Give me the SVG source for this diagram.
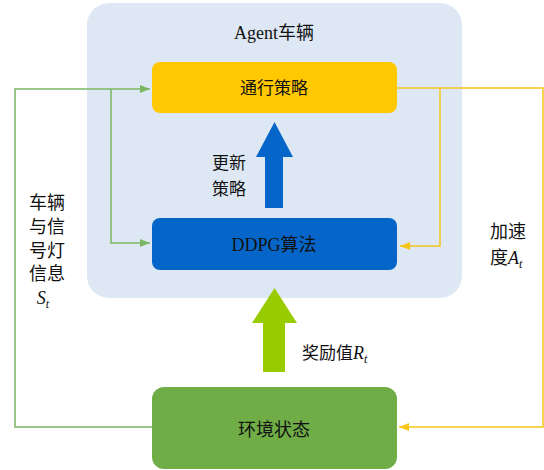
<svg xmlns="http://www.w3.org/2000/svg" width="544" height="470" viewBox="0 0 544 470">
<defs>
<style>
.t{font-family:"Liberation Serif","Noto Sans CJK SC",serif;fill:#111;}
.c{font-family:"Noto Sans CJK SC",sans-serif;fill:#111;}
.i{font-family:"Liberation Serif",serif;font-style:italic;}
.g{fill:none;stroke:#7bb661;stroke-width:1.5;}
.y{fill:none;stroke:#f5c518;stroke-width:1.5;}
</style>
<marker id="ag" markerWidth="10" markerHeight="8" refX="10" refY="4" orient="auto" markerUnits="userSpaceOnUse"><path d="M0,0 L10,4 L0,8 z" fill="#7bb661"/></marker>
<marker id="ay" markerWidth="10" markerHeight="8" refX="10" refY="4" orient="auto" markerUnits="userSpaceOnUse"><path d="M0,0 L10,4 L0,8 z" fill="#f5c518"/></marker>
</defs>
<rect width="544" height="470" fill="#fff"/>
<g id="agent">
<rect x="87" y="3" width="375" height="295" rx="22" fill="#dde8f4"/>
<text class="t" x="274" y="39" font-size="18" text-anchor="middle">Agent车辆</text>
</g>
<g id="connectors">
<path class="g" d="M152,427 H15 V89 H150" marker-end="url(#ag)"/>
<path class="g" d="M111,89 V243 H150" marker-end="url(#ag)"/>
<path class="y" d="M397,88 H543 V427 H399" marker-end="url(#ay)"/>
<path class="y" d="M440,88 V246 H400" marker-end="url(#ay)"/>
</g>
<g id="policy">
<rect x="152" y="62" width="245" height="51" rx="8" fill="#ffc800"/>
<text class="c" x="274" y="94" font-size="17" text-anchor="middle">通行策略</text>
</g>
<g id="ddpg">
<rect x="152" y="218" width="245" height="52" rx="8" fill="#0565c8"/>
<text class="t" x="274" y="251" font-size="18" text-anchor="middle">DDPG算法</text>
</g>
<g id="env">
<rect x="152" y="387" width="245" height="82" rx="12" fill="#70ad47"/>
<text class="c" x="274" y="436" font-size="18" text-anchor="middle">环境状态</text>
</g>
<g id="update">
<path d="M265,208 V157 H256 L274.5,122 L293,157 H283 V208 z" fill="#0565c8"/>
<text class="c" x="229" y="169" font-size="17" text-anchor="middle">更新</text>
<text class="c" x="229" y="195" font-size="17" text-anchor="middle">策略</text>
</g>
<g id="reward">
<path d="M263,372 V323 H252 L274.5,288 L297,323 H285 V372 z" fill="#99cc00"/>
<text class="c" x="302" y="359" font-size="17">奖励值<tspan class="i" font-size="18">R</tspan><tspan class="i" font-size="12" dy="4">t</tspan></text>
</g>
<g id="state-label" font-size="18">
<text class="t" x="47" y="209" text-anchor="middle">车辆</text>
<text class="t" x="47" y="233" text-anchor="middle">与信</text>
<text class="t" x="47" y="257" text-anchor="middle">号灯</text>
<text class="t" x="47" y="280" text-anchor="middle">信息</text>
<text x="43" y="304" text-anchor="middle" class="t"><tspan class="i">S</tspan><tspan class="i" font-size="12" dy="4">t</tspan></text>
</g>
<g id="accel-label" font-size="18">
<text class="t" x="508" y="238" text-anchor="middle">加速</text>
<text class="t" x="490" y="264">度<tspan class="i" font-size="18">A</tspan><tspan class="i" font-size="12" dy="4">t</tspan></text>
</g>
</svg>
